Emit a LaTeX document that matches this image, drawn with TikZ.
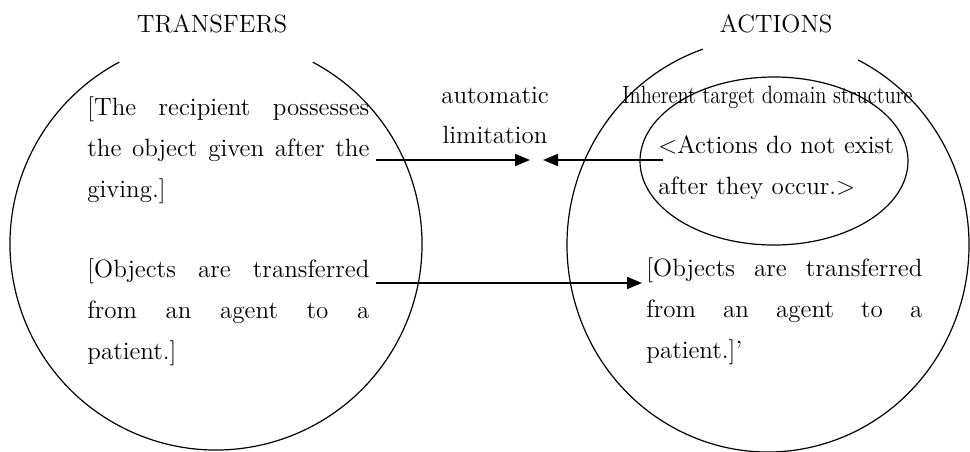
\documentclass[tikz,border=0pt]{standalone}
\usepackage{graphicx}
\usetikzlibrary{arrows.meta}

\begin{document}
\begin{tikzpicture}[x=.5pt,y=-.5pt,>={Triangle[length=7.5pt,width=6pt]},
  font=\fontsize{12.5}{20.5}\selectfont,
  para/.style={anchor=base west,inner sep=0pt,align=justify},
  lbl/.style={anchor=base,inner sep=0pt},
  dom/.style={line width=.6pt},
  lnk/.style={->,line width=.9pt}]
\useasboundingbox (0,0) rectangle (970,451);
% the two domains and the inherent structure
\draw[dom] (216,244) ++(-62:206) arc[start angle=-62,end angle=242,radius=206];
\draw[dom] (768,245) ++(-63.4:201 and 207) arc[start angle=-63.4,end angle=251.1,x radius=201,y radius=207];
\draw[dom] (774,161) ellipse[x radius=134,y radius=84];
\node[lbl] (transfers) at (212,32) {TRANSFERS};
\node[lbl] (actions) at (776,32) {ACTIONS};
\node[para,text width=141pt] (recip) at (87,115) {[The recipient possesses\linebreak the object given after the\linebreak giving.]};
\node[para,text width=141pt] (objL) at (87,277) {[Objects are transferred\linebreak from an agent to a\linebreak patient.]};
\node[para,text width=138pt] (objR) at (646,276) {[Objects are transferred\linebreak from an agent to a\linebreak patient.]'};
\node[lbl,anchor=base west] (inher) at (622,103) {\scalebox{.82}[1]{Inherent target domain structure}};
\node[para,text width=125pt,align=left] (acts) at (658,153) {<Actions do not exist\\after they occur.>};
\node[lbl] (auto) at (495,103) {automatic};
\node[lbl] (limit) at (495,143) {limitation};
% links
\coordinate (limL) at (530,160);
\coordinate (limR) at (543,160);
\coordinate (tipB) at (642,283);
\draw[lnk,shorten <=3pt] (recip.east |- limL) -- (limL);
\draw[lnk,shorten <=-2.5pt] (acts.west |- limR) -- (limR);
\draw[lnk,shorten <=3pt] (objL.east |- tipB) -- (tipB);
\end{tikzpicture}
\end{document}
